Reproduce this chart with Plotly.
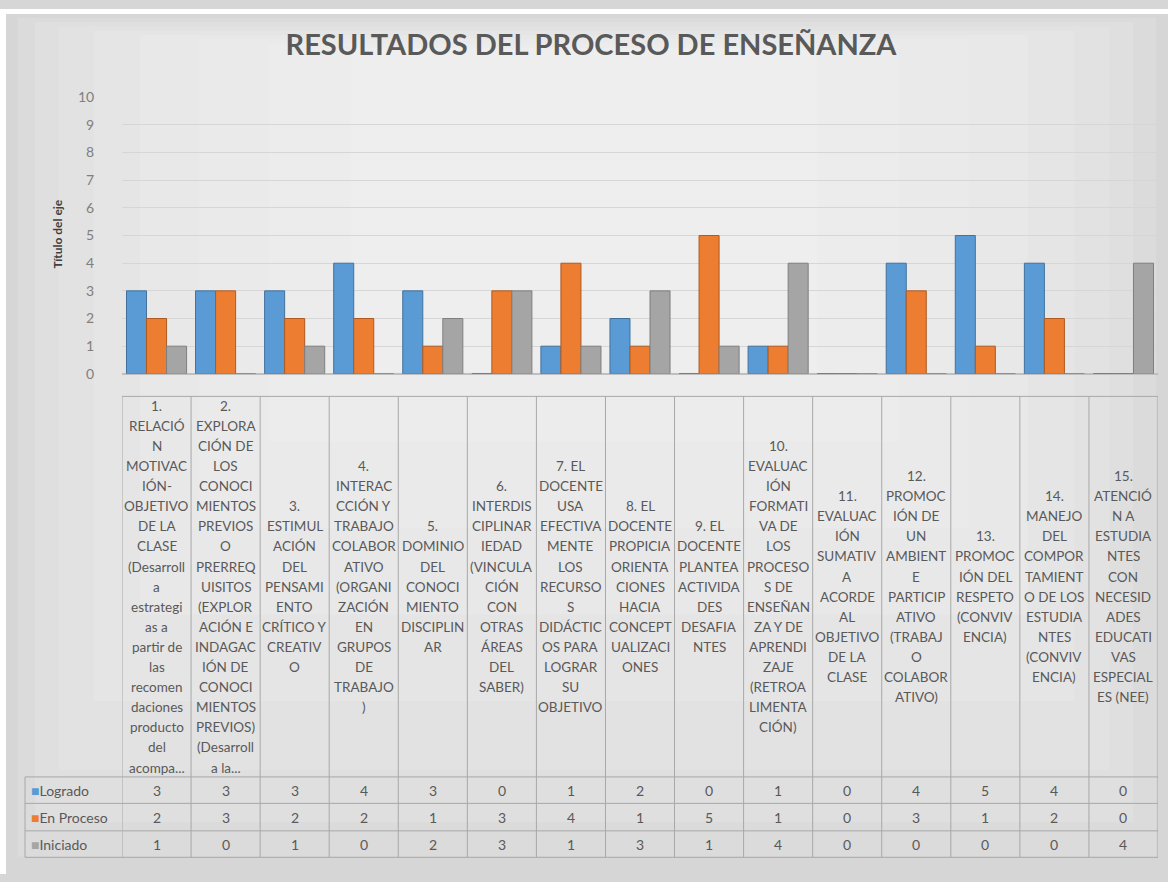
import plotly.graph_objects as go

W, H = 1168, 882

categories = [
    "1.<br>RELACIÓ<br>N<br>MOTIVAC<br>IÓN-<br>OBJETIVO<br>DE LA<br>CLASE<br>(Desarroll<br>a<br>estrategi<br>as a<br>partir de<br>las<br>recomen<br>daciones<br>producto<br>del<br>acompa...",
    "2.<br>EXPLORA<br>CIÓN DE<br>LOS<br>CONOCI<br>MIENTOS<br>PREVIOS<br>O<br>PRERREQ<br>UISITOS<br>(EXPLOR<br>ACIÓN E<br>INDAGAC<br>IÓN DE<br>CONOCI<br>MIENTOS<br>PREVIOS)<br>(Desarroll<br>a la...",
    "3.<br>ESTIMUL<br>ACIÓN<br>DEL<br>PENSAMI<br>ENTO<br>CRÍTICO Y<br>CREATIV<br>O",
    "4.<br>INTERAC<br>CCIÓN Y<br>TRABAJO<br>COLABOR<br>ATIVO<br>(ORGANI<br>ZACIÓN<br>EN<br>GRUPOS<br>DE<br>TRABAJO<br>)",
    "5.<br>DOMINIO<br>DEL<br>CONOCI<br>MIENTO<br>DISCIPLIN<br>AR",
    "6.<br>INTERDIS<br>CIPLINAR<br>IEDAD<br>(VINCULA<br>CIÓN<br>CON<br>OTRAS<br>ÁREAS<br>DEL<br>SABER)",
    "7. EL<br>DOCENTE<br>USA<br>EFECTIVA<br>MENTE<br>LOS<br>RECURSO<br>S<br>DIDÁCTIC<br>OS PARA<br>LOGRAR<br>SU<br>OBJETIVO",
    "8. EL<br>DOCENTE<br>PROPICIA<br>ORIENTA<br>CIONES<br>HACIA<br>CONCEPT<br>UALIZACI<br>ONES",
    "9. EL<br>DOCENTE<br>PLANTEA<br>ACTIVIDA<br>DES<br>DESAFIA<br>NTES",
    "10.<br>EVALUAC<br>IÓN<br>FORMATI<br>VA DE<br>LOS<br>PROCESO<br>S DE<br>ENSEÑAN<br>ZA Y DE<br>APRENDI<br>ZAJE<br>(RETROA<br>LIMENTA<br>CIÓN)",
    "11.<br>EVALUAC<br>IÓN<br>SUMATIV<br>A<br>ACORDE<br>AL<br>OBJETIVO<br>DE LA<br>CLASE",
    "12.<br>PROMOC<br>IÓN DE<br>UN<br>AMBIENT<br>E<br>PARTICIP<br>ATIVO<br>(TRABAJ<br>O<br>COLABOR<br>ATIVO)",
    "13.<br>PROMOC<br>IÓN DEL<br>RESPETO<br>(CONVIV<br>ENCIA)",
    "14.<br>MANEJO<br>DEL<br>COMPOR<br>TAMIENT<br>O DE LOS<br>ESTUDIA<br>NTES<br>(CONVIV<br>ENCIA)",
    "15.<br>ATENCIÓ<br>N A<br>ESTUDIA<br>NTES<br>CON<br>NECESID<br>ADES<br>EDUCATI<br>VAS<br>ESPECIAL<br>ES (NEE)",
]

series_names = ["Logrado", "En Proceso", "Iniciado"]
logrado = [3, 3, 3, 4, 3, 0, 1, 2, 0, 1, 0, 4, 5, 4, 0]
en_proceso = [2, 3, 2, 2, 1, 3, 4, 1, 5, 1, 0, 3, 1, 2, 0]
iniciado = [1, 0, 1, 0, 2, 3, 1, 3, 1, 4, 0, 0, 0, 0, 4]
series_values = [logrado, en_proceso, iniciado]
series_colors = ["#5B9BD5", "#ED7D31", "#A5A5A5"]
series_edges = ["#41719C", "#AE5A21", "#7F7F7F"]

title_text = "RESULTADOS DEL PROCESO DE ENSEÑANZA"
y_title = "Título del eje"
y_ticks = list(range(0, 11))

TXT = "#595959"
GRID = "#D6D6D6"
BORDER = "#A8A8A8"
FONT = "Lato, sans-serif"


def px_x(p):
    return p / W


def px_y(p):
    return 1 - p / H


x0_plot, x1_plot = px_x(122), px_x(1158)
table_left = px_x(25)
y_header_top = px_y(395)
row_edges = [px_y(783), px_y(810), px_y(838), px_y(865)]
y_header_bot = row_edges[0]
y_table_bot = row_edges[-1]
line_step = 20.5 / H

fig = go.Figure()
for name, vals, col, edge in zip(series_names, series_values, series_colors, series_edges):
    fig.add_trace(go.Bar(
        name=name, x=categories, y=vals,
        marker=dict(color=col, line=dict(color=edge, width=1)),
        showlegend=False,
    ))

shapes = []
# background gradient imitation (layered translucent rectangles)
layers = [
    (0.015, 0.99, 0.02, 0.99),
    (0.03, 0.97, 0.06, 0.985),
    (0.05, 0.95, 0.12, 0.98),
    (0.08, 0.92, 0.20, 0.975),
    (0.12, 0.88, 0.30, 0.97),
    (0.17, 0.83, 0.40, 0.965),
    (0.23, 0.77, 0.50, 0.96),
    (0.30, 0.70, 0.58, 0.955),
]
for a, b, c, d in layers:
    shapes.append(dict(type="rect", xref="paper", yref="paper", x0=a, x1=b, y0=c, y1=d,
                       fillcolor="white", opacity=0.12, line=dict(width=0), layer="below"))
# white outer strips
shapes.append(dict(type="rect", xref="paper", yref="paper", x0=0, x1=1, y0=px_y(5), y1=1,
                   fillcolor="white", line=dict(width=0), layer="below"))
shapes.append(dict(type="rect", xref="paper", yref="paper", x0=0, x1=px_x(6), y0=0, y1=1,
                   fillcolor="white", line=dict(width=0), layer="below"))

# table grid: vertical lines at category boundaries
n = len(categories)
for i in range(n + 1):
    shapes.append(dict(type="line", xref="x", yref="paper", x0=i - 0.5, x1=i - 0.5,
                       y0=y_table_bot, y1=y_header_top, line=dict(color=BORDER, width=1)))
shapes.append(dict(type="line", xref="paper", yref="paper", x0=table_left, x1=table_left,
                   y0=y_table_bot, y1=y_header_bot, line=dict(color=BORDER, width=1)))
shapes.append(dict(type="line", xref="paper", yref="paper", x0=x0_plot, x1=x1_plot,
                   y0=y_header_top, y1=y_header_top, line=dict(color=BORDER, width=1)))
for yy in row_edges:
    shapes.append(dict(type="line", xref="paper", yref="paper", x0=table_left, x1=x1_plot,
                       y0=yy, y1=yy, line=dict(color=BORDER, width=1)))

annotations = []
# category header labels, one annotation per wrapped line
y_mid = (y_header_top + y_header_bot) / 2
for cat in categories:
    lines = cat.split("<br>")
    k = len(lines)
    for j, ln in enumerate(lines):
        annotations.append(dict(x=cat, xref="x", y=y_mid + ((k - 1) / 2 - j) * line_step, yref="paper",
                                text=ln, showarrow=False, xanchor="center", yanchor="middle",
                                font=dict(family=FONT, size=13.5, color=TXT)))
# data rows
for r, (name, vals, col, edge) in enumerate(zip(series_names, series_values, series_colors, series_edges)):
    yc = (row_edges[r] + row_edges[r + 1]) / 2
    annotations.append(dict(x=table_left + 4 / W, xref="paper", y=yc, yref="paper",
                            text=f"<span style='color:{col}'>■</span>{name}",
                            showarrow=False, xanchor="left", yanchor="middle",
                            font=dict(family=FONT, size=14, color=TXT)))
    for cat, v in zip(categories, vals):
        annotations.append(dict(x=cat, xref="x", y=yc, yref="paper", text=str(v),
                                showarrow=False, xanchor="center", yanchor="middle",
                                font=dict(family=FONT, size=14, color=TXT)))
# y-axis title
annotations.append(dict(x=px_x(58), xref="paper", y=px_y(230), yref="paper", text=f"<b>{y_title}</b>",
                        textangle=-90, showarrow=False, xanchor="center", yanchor="middle",
                        font=dict(family=FONT, size=12, color="#404040")))

fig.update_layout(
    width=W, height=H,
    margin=dict(l=0, r=0, t=0, b=0),
    paper_bgcolor="#D6D6D6",
    plot_bgcolor="rgba(0,0,0,0)",
    barmode="group", bargap=0.13, bargroupgap=0.0,
    title=dict(text=f"<b>{title_text}</b>", x=px_x(591), xanchor="center", y=px_y(45), yanchor="middle",
               font=dict(family=FONT, size=29, color=TXT)),
    xaxis=dict(domain=[x0_plot, x1_plot], showticklabels=False, showgrid=False, zeroline=False,
               showline=False, range=[-0.5, n - 0.5]),
    yaxis=dict(domain=[px_y(372), px_y(90)], range=[0, 10], tickvals=y_ticks,
               showgrid=True, gridcolor=GRID, gridwidth=1, zeroline=True, zerolinecolor="#BFBFBF",
               ticks="outside", ticklen=24, tickcolor="rgba(0,0,0,0)",
               tickfont=dict(family=FONT, size=14, color="#7F7F7F")),
    shapes=shapes,
    annotations=annotations,
)

fig.write_html("out.html", config={"displayModeBar": False},
               post_script="document.body.style.margin='0';document.body.style.overflow='hidden';")
